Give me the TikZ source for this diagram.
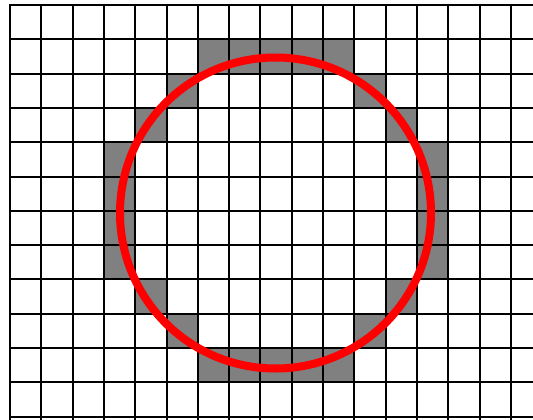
\documentclass[tikz,border=0pt]{standalone}
\begin{document}
\begin{tikzpicture}[x=1pt,y=-1pt,
  gridline/.style={line width=2pt,black},
  graycell/.style={fill={rgb,255:red,128;green,128;blue,128}},
  ring/.style={line width=8pt,draw={rgb,255:red,255;green,0;blue,0}}]
\useasboundingbox (0,0) rectangle (533,420);
\fill[white] (0,0) rectangle (533,420);
\def\cw{31.3}
\def\ch{34.3}
% gray cells: column/row pairs
\foreach \c/\r in {6/1,7/1,8/1,9/1,10/1,5/2,11/2,4/3,12/3,3/4,13/4,3/5,13/5,3/6,13/6,3/7,13/7,4/8,12/8,5/9,11/9,6/10,7/10,8/10,9/10,10/10}{
  \path[graycell] ({10+\cw*\c},{5+\ch*\r}) rectangle ({10+\cw*(\c+1)},{5+\ch*(\r+1)});
}
% grid
\foreach \i in {0,...,16}{
  \draw[gridline] ({10+\cw*\i},4) -- ({10+\cw*\i},425);
}
\foreach \j in {0,...,12}{
  \draw[gridline] (9,{5+\ch*\j}) -- (540,{5+\ch*\j});
}
% circle
\coordinate (ctr) at (275.5,213);
\draw[ring] (ctr) circle[radius=155.5pt];
\end{tikzpicture}
\end{document}
